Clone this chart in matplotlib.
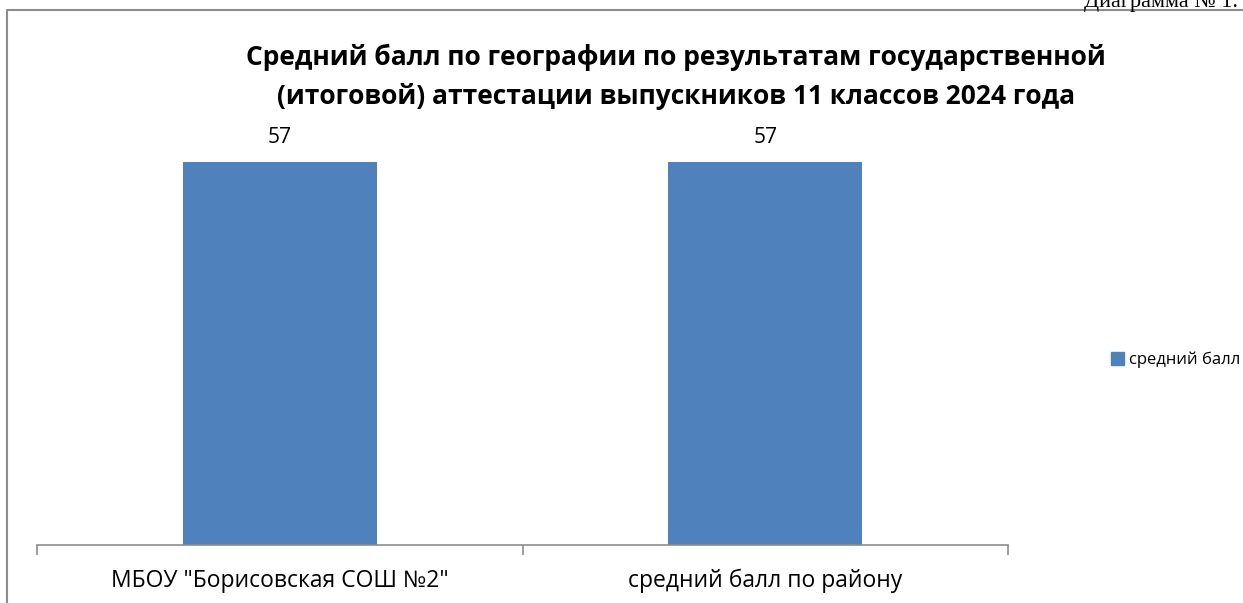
import matplotlib
matplotlib.use('Agg')
import matplotlib.pyplot as plt
from matplotlib.lines import Line2D
from matplotlib.patches import Patch

# данные
categories = ['МБОУ "Борисовская СОШ №2"', 'средний балл по району']
values = [57, 57]
series_name = 'средний балл'
title = ('Средний балл по географии по результатам государственной\n'
         '(итоговой) аттестации выпускников 11 классов 2024 года')

plt.rcParams['font.family'] = ['Open Sans', 'DejaVu Sans']

W, H = 1243, 603
fig = plt.figure(figsize=(W/100, H/100), dpi=100)

# рамка диаграммы (видны только левая и верхняя стороны)
fig.add_artist(Line2D([7/W, 7/W, 1], [0, 1-10/H, 1-10/H], color='#8c8c8c', lw=1.5))
fig.text(1238/W, 1-7/H, 'Диаграмма № 1.', ha='right', va='baseline',
         fontsize=16, family='Liberation Serif')

ax = fig.add_axes([37/W, 58/H, 971/W, 403/H])
x = range(len(categories))
bars = ax.bar(x, values, width=0.4, color='#4F81BD', label=series_name)
for b, v in zip(bars, values):
    ax.text(b.get_x()+b.get_width()/2, v+3.6, str(v), ha='center', va='center', fontsize=15)

ax.set_xlim(-0.5, 1.5)
ax.set_ylim(0, 60)
ax.set_yticks([])
for s in ['top', 'right', 'left']:
    ax.spines[s].set_visible(False)
ax.spines['bottom'].set_color('#8c8c8c')
ax.spines['bottom'].set_linewidth(1.2)
ax.set_xticks([-0.5, 0.5, 1.5], minor=False)
ax.set_xticklabels([])
ax.tick_params(axis='x', length=7, color='#8c8c8c', width=1.2)
for i, c in enumerate(categories):
    ax.text(i, -0.09, c, transform=ax.get_xaxis_transform(), ha='center', va='center', fontsize=16.5)

fig.text(676/W, 1-77/H, title, ha='center', va='center', fontsize=19,
         fontweight='bold', linespacing=1.55)

fig.legend(handles=[Patch(color='#4F81BD', label=series_name)], loc='center left',
           bbox_to_anchor=(1096/W, 1-360/H), frameon=False, fontsize=12,
           handlelength=0.8, handleheight=0.8, handletextpad=0.3)

fig.savefig('out.png', dpi=100)
